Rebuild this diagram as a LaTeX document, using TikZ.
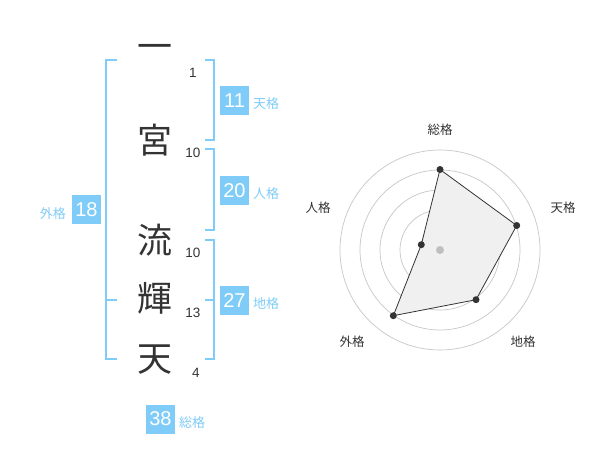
\documentclass[tikz,border=0pt]{standalone}
\usepackage{fontspec}
\setmainfont{Noto Sans CJK JP}
\newfontfamily\digitfont{Liberation Sans}
\usepackage{tikz}
\definecolor{kakublue}{HTML}{80CCF8}
\definecolor{kanjigray}{HTML}{333333}
\tikzset{
  kanji/.style={font=\fontsize{35}{35}\selectfont,text=kanjigray,inner sep=0pt},
  stroke/.style={font=\digitfont\fontsize{13.5}{13.5}\selectfont,text=kanjigray,inner sep=0pt},
  kakubox/.style={fill=kakublue,text=white,minimum size=29pt,inner sep=0pt,font=\digitfont\fontsize{20}{20}\selectfont},
  kakuname/.style={text=kakublue,inner sep=0pt,font=\fontsize{13}{13}\selectfont},
  brace/.style={draw=kakublue,line width=2pt},
  axisname/.style={text=kanjigray,inner sep=0pt,font=\fontsize{12.5}{12.5}\selectfont}
}
\begin{document}
\begin{tikzpicture}[x=1pt,y=-1pt]
\useasboundingbox (0,0) rectangle (600,470);
\fill[white] (0,0) rectangle (600,470);
\node[kanji] (k1) at (155,52) {一};
\node[kanji] (k2) at (155,140) {宮};
\node[kanji] (k3) at (155,240) {流};
\node[kanji] (k4) at (155,298) {輝};
\node[kanji] (k5) at (155,360) {天};
\node[stroke] (s1) at (193,73) {1};
\node[stroke] (s2) at (193,153) {10};
\node[stroke] (s3) at (193,253) {10};
\node[stroke] (s4) at (193,313) {13};
\node[stroke] (s5) at (196,373) {4};
\draw[brace] (117,60) -- (106,60) -- (106,359) -- (117,359);
\draw[brace] (106,300) -- (117,300);
\draw[brace] (205,60) -- (214,60) -- (214,140) -- (205,140);
\draw[brace] (205,149) -- (214,149) -- (214,230) -- (205,230);
\draw[brace] (205,240) -- (214,240) -- (214,359) -- (205,359);
\draw[brace] (205,300) -- (214,300);
\node[kakubox] (ten) at (234.5,100.5) {11};
\node[kakuname,anchor=west] (tenl) at (253,104) {天格};
\node[kakubox] (jin) at (234.5,190.5) {20};
\node[kakuname,anchor=west] (jinl) at (253,194) {人格};
\node[kakubox] (chi) at (234.5,300.5) {27};
\node[kakuname,anchor=west] (chil) at (253,304) {地格};
\node[kakubox] (gai) at (86.5,210) {18};
\node[kakuname,anchor=east] (gail) at (66,214) {外格};
\node[kakubox] (sou) at (160.5,419) {38};
\node[kakuname,anchor=west] (soul) at (179,423) {総格};
\foreach \r in {20,40,60,80,100}
  \draw[black!22,line width=0.7pt] (440,250) circle (\r);
\coordinate (c) at (440,250);
\path (c) ++(0,-80.5) coordinate (p1)
      (c) ++(76.7,-24.5) coordinate (p2)
      (c) ++(36,49.7) coordinate (p3)
      (c) ++(-46.7,65.7) coordinate (p4)
      (c) ++(-18.7,-5.3) coordinate (p5);
\fill[black!6] (p1) -- (p2) -- (p3) -- (p4) -- (p5) -- cycle;
\fill[black!25] (c) circle (4);
\draw[kanjigray,line width=0.8pt] (p1) -- (p2) -- (p3) -- (p4) -- (p5) -- cycle;
\foreach \p in {p1,p2,p3,p4,p5}
  \fill[kanjigray] (\p) circle (3.5);
\node[axisname] (a1) at (440,130) {総格};
\node[axisname] (a2) at (563,208) {天格};
\node[axisname] (a3) at (523,342) {地格};
\node[axisname] (a4) at (352,342) {外格};
\node[axisname] (a5) at (318,208) {人格};
\end{tikzpicture}
\end{document}
